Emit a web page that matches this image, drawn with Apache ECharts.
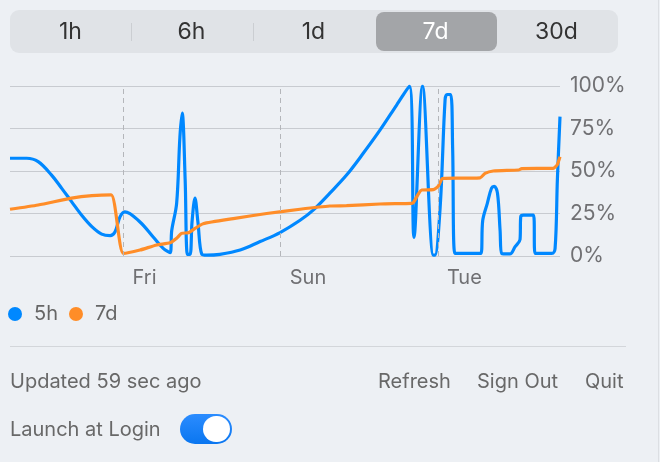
<!DOCTYPE html>
<html>
<head>
<meta charset="utf-8">
<script src="https://cdn.jsdelivr.net/npm/echarts@6/dist/echarts.min.js"></script>
<style>
  html, body { margin: 0; padding: 0; background: #edf0f4; font-family: Inter, "Noto Sans", sans-serif; }
  #wrap { position: relative; width: 660px; height: 462px; overflow: hidden; }
  #main { position: absolute; left: 0; top: 0; width: 660px; height: 462px; }
  .seg { position: absolute; left: 10px; top: 10px; width: 608px; height: 43px; background: #e0e3e7; border-radius: 9px; }
  .pill { position: absolute; left: 376px; top: 12px; width: 121px; height: 39px; background: #a3a5a8; border-radius: 8px; }
  .divi { position: absolute; top: 23px; width: 1px; height: 18px; background: #cbced2; }
  .segl { position: absolute; top: 10px; height: 43px; line-height: 43px; width: 121px; text-align: center; font-size: 23px; color: #333; }
  .sep { position: absolute; left: 10px; top: 346px; width: 616px; height: 1px; background: #d3d6da; }
  .rb { position: absolute; right: 1px; top: 0; width: 1px; height: 462px; background: #dcdfe3; }
  .txt { position: absolute; font-size: 20px; color: #686868; white-space: nowrap; }
  .tog { position: absolute; left: 180px; top: 414px; width: 52px; height: 30px; border-radius: 15px; background: linear-gradient(#2b8cff, #0a76f0); }
  .knob { position: absolute; left: 203px; top: 416px; width: 27px; height: 26px; border-radius: 13px; background: #fff; }
</style>
</head>
<body>
<div id="wrap">
  <div id="main"></div>
  <div class="seg"></div>
  <div class="pill"></div>
  <div class="divi" style="left:131px"></div>
  <div class="divi" style="left:253px"></div>
  <div class="segl" style="left:10px">1h</div>
  <div class="segl" style="left:131px">6h</div>
  <div class="segl" style="left:253px">1d</div>
  <div class="segl" style="left:375px;color:#fff">7d</div>
  <div class="segl" style="left:496px">30d</div>
  <div class="sep"></div>
  <div class="rb"></div>
  <div class="txt" style="left:10px;top:369px">Updated 59 sec ago</div>
  <div class="txt" style="left:378px;top:369px">Refresh</div>
  <div class="txt" style="left:477px;top:369px">Sign Out</div>
  <div class="txt" style="left:585px;top:369px">Quit</div>
  <div class="txt" style="left:10px;top:417px">Launch at Login</div>
  <div class="tog"></div>
  <div class="knob"></div>
</div>
<script>
var chartDom = document.getElementById('main');
var myChart = echarts.init(chartDom);

// hours since start of the 7 day window, usage in percent
let fiveHourX = [0, 5.1, 8.6, 12.7, 15.8, 18.8, 21.9, 25.0, 28.0, 30.6, 32.1, 33.6, 35.1, 39.7, 43.8, 46.8, 48.9,
  49.4, 50.9, 51.9, 52.6, 53.5, 54.2, 55.0, 55.6, 56.5, 57.4, 58.6, 60.1, 64.1, 70.3, 76.4, 82.5, 88.6, 92.6,
  97.7, 102.8, 107.9, 113.0, 118.1, 122.0, 123.4, 126.0, 129.3, 129.8, 131.4, 132.9, 133.5, 134.6, 135.2,
  135.9, 143.8, 144.4, 145.8, 147.1, 147.9, 148.9, 149.7, 150.2, 152.7, 154.3, 155.8, 156.0, 156.8, 159.9,
  160.4, 165.5, 166.5, 167.2, 168.0];
let fiveHourY = [57.5, 57.5, 55.5, 47.6, 39.8, 32, 24, 17.3, 12.9, 12, 14.3, 23, 26, 20, 11, 4.5, 2,
  15, 31, 70, 84, 45, 1, 1, 20, 34, 20, 1, 0.5, 1, 3.5, 8.5, 13.8, 21, 27,
  37, 47.6, 60.4, 74, 88.8, 100, 11, 100, 0.5, 0.5, 29, 92, 95, 95, 64,
  1.5, 1.5, 21, 31, 40, 41, 37, 15, 1.5, 1.2, 5.5, 9.8, 23, 24, 24,
  1.5, 1.5, 4.5, 45, 82];

let sevenDayX = [0, 8.6, 18.8, 25.0, 30.9, 34.6, 39.7, 44.8, 48.9, 50.9, 52.4, 54.5, 56.5, 59.0, 68.2, 78.4,
  88.6, 97.7, 102.8, 113.0, 122.7, 123.2, 124.9, 125.8, 129.3, 130.8, 132.0, 132.9, 143.6, 145.1, 147.6,
  155.3, 156.3, 165.9, 167.1, 168];
let sevenDayY = [27.5, 30, 34, 35.5, 36, 1.5, 3.5, 6.5, 7.8, 10.4, 13.3, 13.7, 16.2, 19, 22, 25,
  27.5, 29.4, 29.6, 30.6, 31, 31.4, 37, 38.8, 39, 41, 45.5, 45.7, 46, 48.6, 50,
  50.6, 51.4, 51.6, 53.5, 58.4];

// midnight positions that get a dashed line and a day label
let dayTicks = [34.7, 82.7, 130.7];
let dayNames = ['Fri', 'Sun', 'Tue'];

function pairs(xs, ys) {
  return xs.map(function (x, i) { return [x, ys[i]]; });
}

var textFont = 'Inter, "Noto Sans", sans-serif';

var option = {
  animation: false,
  textStyle: { fontFamily: textFont },
  grid: { left: 10, right: 100, top: 86, bottom: 206 },
  legend: {
    left: 3,
    top: 299,
    icon: 'circle',
    itemWidth: 28,
    itemHeight: 14,
    itemGap: 11,
    data: ['5h', '7d'],
    textStyle: { fontSize: 20, color: '#666', fontFamily: textFont }
  },
  xAxis: {
    type: 'value',
    min: 0,
    max: 168,
    axisLine: { show: false },
    axisTick: { show: false },
    splitLine: { show: false },
    axisLabel: {
      customValues: dayTicks,
      align: 'left',
      padding: [0, 0, 0, 9],
      margin: 12,
      fontSize: 20,
      color: '#707073',
      fontFamily: textFont,
      formatter: function (v) {
        return dayNames[dayTicks.indexOf(v)] || '';
      }
    }
  },
  yAxis: {
    type: 'value',
    position: 'right',
    min: 0,
    max: 100,
    interval: 25,
    axisLine: { show: false },
    axisTick: { show: false },
    splitLine: { lineStyle: { color: '#c8cbd0', width: 1 } },
    axisLabel: {
      margin: 10,
      fontSize: 21,
      color: '#707073',
      fontFamily: textFont,
      formatter: '{value}%'
    }
  },
  series: [
    {
      name: '5h',
      type: 'line',
      data: pairs(fiveHourX, fiveHourY),
      smooth: 0.35,
      showSymbol: false,
      color: '#0088ff',
      lineStyle: { width: 3.2, color: '#0088ff' },
      markLine: {
        silent: true,
        symbol: 'none',
        label: { show: false },
        lineStyle: { color: '#b4b6ba', type: [5, 4], width: 1 },
        data: dayTicks.map(function (t) { return { xAxis: t }; })
      },
      z: 3
    },
    {
      name: '7d',
      type: 'line',
      data: pairs(sevenDayX, sevenDayY),
      smooth: 0.2,
      showSymbol: false,
      color: '#ff8d28',
      lineStyle: { width: 3.2, color: '#ff8d28' },
      z: 4
    }
  ]
};

option && myChart.setOption(option);
</script>
</body>
</html>
